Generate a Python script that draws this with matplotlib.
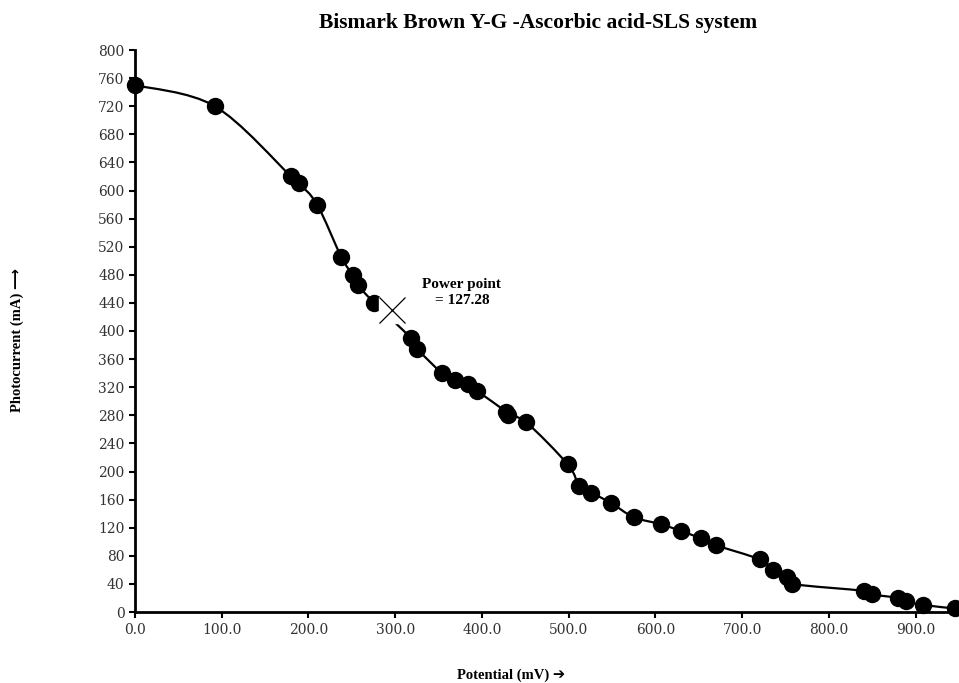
import matplotlib
matplotlib.use("Agg")
import matplotlib.pyplot as plt
from matplotlib.path import Path
from matplotlib.patches import PathPatch
import numpy as np

potential = [0, 92, 180, 189, 210, 238, 251, 257, 276, 318, 325, 354, 369, 384, 394,
             428, 430, 451, 499, 512, 526, 549, 575, 606, 630, 652, 670, 720, 736,
             752, 757, 841, 850, 880, 889, 909, 945]
photocurrent = [750, 720, 620, 610, 580, 505, 480, 465, 440, 390, 375, 340, 330, 325, 315,
                285, 280, 270, 210, 180, 170, 155, 135, 125, 115, 105, 95, 75, 60,
                50, 40, 30, 25, 20, 15, 10, 5]
power_point = (296, 430)
power_label = "Power point\n= 127.28"
title = "Bismark Brown Y-G -Ascorbic acid-SLS system"
xlabel = "Potential (mV) \u2794"
ylabel = "Photocurrent (mA) \u27f6"
xticks = [0, 100, 200, 300, 400, 500, 600, 700, 800, 900]
yticks = list(range(0, 801, 40))

fig = plt.figure(figsize=(9.59, 6.83), dpi=100)
ax = fig.add_axes([135/959, 1-612/683, 1-135/959, (612-50)/683])

# smoothed line (Excel-like bezier)
x = np.array(potential, float); y = np.array(photocurrent, float)
verts = [(x[0], y[0])]; codes = [Path.MOVETO]
n = len(x)
for i in range(n-1):
    p0 = np.array([x[max(i-1, 0)], y[max(i-1, 0)]])
    p1 = np.array([x[i], y[i]])
    p2 = np.array([x[i+1], y[i+1]])
    p3 = np.array([x[min(i+2, n-1)], y[min(i+2, n-1)]])
    c1 = p1 + (p2 - p0)/6.0
    c2 = p2 - (p3 - p1)/6.0
    verts += [tuple(c1), tuple(c2), tuple(p2)]
    codes += [Path.CURVE4]*3
ax.add_patch(PathPatch(Path(verts, codes), facecolor='none', edgecolor='black', lw=1.6,
                       zorder=2, clip_on=False))
ax.plot(potential, photocurrent, linestyle='none', marker='o', markersize=11.5,
        color='black', zorder=3, clip_on=False)

ax.plot([power_point[0]], [power_point[1]], marker='s', markersize=18.5, color='white',
        markeredgecolor='white', linestyle='none', zorder=4, clip_on=False)
ax.plot([power_point[0]], [power_point[1]], marker='x', markersize=18.5, color='black',
        markeredgewidth=0.9, linestyle='none', zorder=5, clip_on=False)
ax.text(377, 455, power_label, ha='center', va='center', fontsize=11, fontweight='bold',
        family='Liberation Serif', linespacing=1.3, zorder=6)

tick_font = {'family': 'DejaVu Serif', 'size': 10, 'color': '#333333'}
ax.set_xlim(0, 950)
ax.set_ylim(0, 800)
ax.set_xticks(xticks)
ax.set_xticklabels([f"{v:.1f}" for v in xticks], fontdict=tick_font)
ax.set_yticks(yticks)
ax.set_yticklabels([str(v) for v in yticks], fontdict=tick_font)
ax.tick_params(direction='out', length=4, width=1.5, colors='black', labelcolor='#333333')
ax.tick_params(axis='x', pad=4)
for s in ['top', 'right']:
    ax.spines[s].set_visible(False)
for s in ['left', 'bottom']:
    ax.spines[s].set_linewidth(2)

fig.text(538/959, 1-23/683, title, ha='center', va='center', fontsize=15.5,
         fontweight='bold', family='Liberation Serif')
fig.text(511/959, 1-675/683, xlabel, ha='center', va='center', fontsize=10.5,
         fontweight='bold', family=['Liberation Serif', 'DejaVu Sans'])
fig.text(17/959, 1-340/683, ylabel, ha='center', va='center', fontsize=10.5,
         fontweight='bold', rotation=90, family=['Liberation Serif', 'DejaVu Sans'])

fig.savefig("out.png", dpi=100)
